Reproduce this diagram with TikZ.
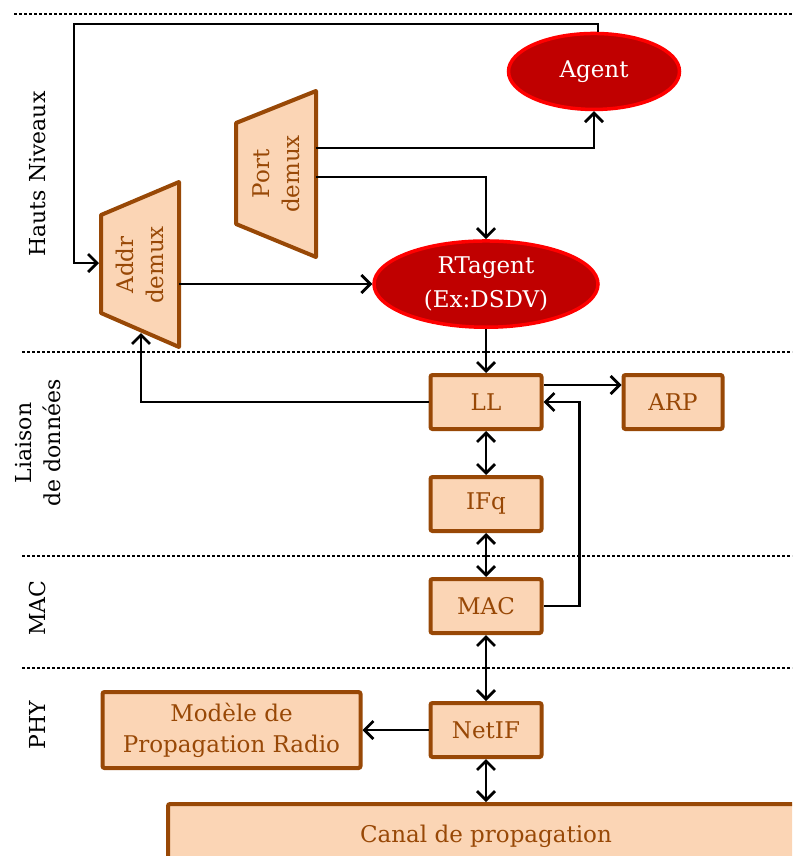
\documentclass[tikz,border=0pt]{standalone}
\usepackage{fontspec}
\setmainfont{DejaVu Serif}
\usetikzlibrary{shapes.geometric, arrows.meta, positioning, calc}
\definecolor{peachfill}{RGB}{251, 213, 181}
\definecolor{brownline}{RGB}{152, 72, 6}
\definecolor{agentred}{RGB}{192, 0, 0}
\definecolor{agentrim}{RGB}{255, 0, 0}
\tikzstyle{block} = [rectangle, rounded corners=2pt, minimum width=111pt, minimum height=54pt, align=center, draw=brownline, line width=4pt, fill=peachfill, text=brownline, font=\fontsize{23}{31}\selectfont]
\tikzstyle{agentnode} = [ellipse, draw=agentrim, line width=3.5pt, fill=agentred, text=white, align=center, font=\fontsize{23}{34}\selectfont]
\tikzstyle{demux} = [draw=brownline, line width=4pt, fill=peachfill, line join=round]
\tikzstyle{demuxlabel} = [rotate=90, align=center, text=brownline, font=\fontsize{23}{30}\selectfont]
\tikzstyle{layerlabel} = [rotate=90, align=center, font=\fontsize{22}{29}\selectfont]
\tikzstyle{sepline} = [line width=2.5pt, dash pattern=on 2.5pt off 2.5pt]
\tikzstyle{arrow} = [line width=2.8pt, ->, >={Straight Barb[length=9pt,width=18pt]}]
\tikzstyle{dblarrow} = [line width=2.8pt, <->, >={Straight Barb[length=9pt,width=18pt]}]

\begin{document}
\begin{tikzpicture}[x=1pt, y=-1pt, node distance=44pt]
\clip (0,0) rectangle (792,856);

% layers
\draw [sepline] (14,14) -- (792,14);
\draw [sepline] (22,352) -- (792,352);
\draw [sepline] (22,556) -- (792,556);
\draw [sepline] (22,668) -- (792,668);
\node (hauts) [layerlabel] at (38,174) {Hauts Niveaux};
\node (liaison) [layerlabel] at (38,443) {Liaison\\de données};
\node (maclayer) [layerlabel] at (37,608) {MAC};
\node (phylayer) [layerlabel] at (37,725) {PHY};

% demux
\coordinate (portc) at (276,174);
\coordinate (addrc) at (140,265);
\draw [demux] ($(portc)+(-40,-51)$) -- ($(portc)+(40,-83)$) -- ($(portc)+(40,83)$) -- ($(portc)+(-40,50)$) -- cycle;
\draw [demux] ($(addrc)+(-39,-50)$) -- ($(addrc)+(39,-83)$) -- ($(addrc)+(39,82)$) -- ($(addrc)+(-39,48)$) -- cycle;
\node (port) [demuxlabel] at (portc) {Port\\demux};
\node (addr) [demuxlabel] at (addrc) {Addr\\demux};
\coordinate (portout1) at ($(portc)+(40,-26)$);
\coordinate (portout2) at ($(portc)+(40,3)$);
\coordinate (addrin) at ($(addrc)+(-41,-2)$);
\coordinate (addrout) at ($(addrc)+(39,19)$);
\coordinate (addrbot) at ($(addrc)+(1,68)$);
\coordinate (loop) at (74,24);

% stack
\node (ll) [block] at (486,402) {LL};
\node (ifq) [block, below=of ll] {IFq};
\node (mac) [block, below=of ifq] {MAC};
\node (netif) [block, below=66pt of mac] {NetIF};
\node (arp) [block, right=78pt of ll, minimum width=99pt] {ARP};
\node (modele) [block, left=66pt of netif, minimum width=258pt, minimum height=76pt] {Modèle de\\Propagation Radio};
\node (canal) [block, below=43pt of netif, minimum width=636pt, minimum height=64pt] {Canal de propagation};
\node (rtagent) [agentnode, above=of ll, minimum width=224pt, minimum height=84pt] {RTagent\\(Ex:DSDV)};
\node (agent) [agentnode, above=128pt of rtagent, xshift=108pt, minimum width=171pt, minimum height=76pt] {Agent};

% Arrows
\draw [arrow] ([xshift=4pt]agent.north) |- (loop) |- (addrin);
\draw [arrow] (portout1) -| (agent.south);
\draw [arrow] (portout2) -| (rtagent.north);
\draw [arrow] (addrout) -- (addrout -| rtagent.west);
\draw [arrow] (rtagent) -- (ll);
\draw [arrow] (ll.west) -| (addrbot);
\draw [dblarrow] (ll) -- (ifq);
\draw [dblarrow] (ifq) -- (mac);
\draw [dblarrow] (mac) -- (netif);
\draw [dblarrow] (netif) -- (canal);
\draw [arrow] ([yshift=17pt]ll.east) -- ([yshift=17pt]ll.east -| arp.west);
\draw [arrow] (mac.east) -- ++(36,0) |- (ll.east);
\draw [arrow] (netif) -- (modele);

\end{tikzpicture}
\end{document}
